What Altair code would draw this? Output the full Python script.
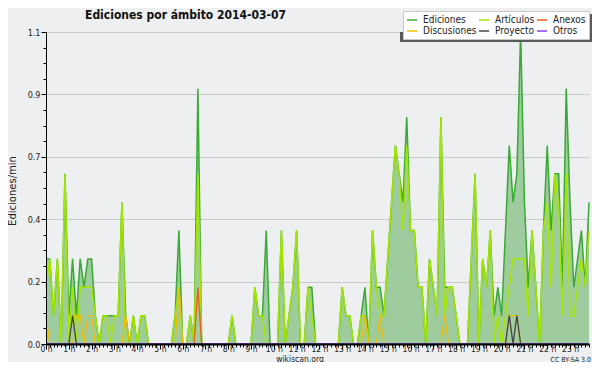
import altair as alt
import pandas as pd

# ---- data: edits per minute, one value every 10 minutes (6 per hour) ----
ediciones = [
    0.3, 0.3, 0.1, 0.3, 0.0, 0.6,   # 0 h
    0.1, 0.3, 0.1, 0.3, 0.2, 0.3,   # 1 h
    0.3, 0.1, 0.0, 0.1, 0.1, 0.1,   # 2 h
    0.1, 0.1, 0.5, 0.1, 0.0, 0.1,   # 3 h
    0.0, 0.1, 0.1, 0.0, 0.0, 0.0,   # 4 h
    0.0, 0.0, 0.0, 0.0, 0.1, 0.4,   # 5 h
    0.0, 0.0, 0.1, 0.0, 0.9, 0.0,   # 6 h
    0.0, 0.0, 0.0, 0.0, 0.0, 0.0,   # 7 h
    0.0, 0.1, 0.0, 0.0, 0.0, 0.0,   # 8 h
    0.0, 0.2, 0.1, 0.1, 0.4, 0.0,   # 9 h
    0.0, 0.0, 0.4, 0.0, 0.1, 0.2,   # 10 h
    0.4, 0.0, 0.0, 0.2, 0.2, 0.0,   # 11 h
    0.0, 0.0, 0.0, 0.0, 0.0, 0.0,   # 12 h
    0.2, 0.1, 0.1, 0.0, 0.0, 0.1,   # 13 h
    0.2, 0.0, 0.4, 0.2, 0.2, 0.1,   # 14 h
    0.3, 0.5, 0.7, 0.6, 0.5, 0.8,   # 15 h
    0.4, 0.4, 0.2, 0.2, 0.0, 0.3,   # 16 h
    0.2, 0.1, 0.8, 0.2, 0.2, 0.2,   # 17 h
    0.1, 0.0, 0.0, 0.0, 0.3, 0.6,   # 18 h
    0.0, 0.3, 0.2, 0.4, 0.1, 0.2,   # 19 h
    0.1, 0.4, 0.7, 0.5, 0.6, 1.1,   # 20 h
    0.5, 0.2, 0.4, 0.2, 0.0, 0.4,   # 21 h
    0.7, 0.4, 0.6, 0.6, 0.2, 0.9,   # 22 h
    0.5, 0.2, 0.3, 0.4, 0.2, 0.5,   # 23 h
]
articulos = [
    0.2, 0.3, 0.1, 0.3, 0.0, 0.6,
    0.0, 0.2, 0.0, 0.2, 0.2, 0.2,
    0.2, 0.1, 0.0, 0.1, 0.1, 0.0,
    0.1, 0.1, 0.5, 0.0, 0.0, 0.1,
    0.0, 0.1, 0.1, 0.0, 0.0, 0.0,
    0.0, 0.0, 0.0, 0.0, 0.1, 0.2,
    0.0, 0.0, 0.1, 0.0, 0.6, 0.0,
    0.0, 0.0, 0.0, 0.0, 0.0, 0.0,
    0.0, 0.1, 0.0, 0.0, 0.0, 0.0,
    0.0, 0.2, 0.1, 0.1, 0.0, 0.0,
    0.0, 0.0, 0.4, 0.0, 0.1, 0.2,
    0.4, 0.0, 0.0, 0.2, 0.1, 0.0,
    0.0, 0.0, 0.0, 0.0, 0.0, 0.0,
    0.2, 0.1, 0.1, 0.0, 0.0, 0.1,
    0.1, 0.0, 0.4, 0.2, 0.1, 0.1,
    0.3, 0.5, 0.7, 0.6, 0.4, 0.7,
    0.4, 0.4, 0.2, 0.2, 0.0, 0.3,
    0.2, 0.1, 0.8, 0.1, 0.2, 0.2,
    0.1, 0.0, 0.0, 0.0, 0.3, 0.6,
    0.0, 0.3, 0.2, 0.4, 0.0, 0.1,
    0.0, 0.1, 0.2, 0.3, 0.3, 0.3,
    0.3, 0.1, 0.4, 0.2, 0.0, 0.4,
    0.5, 0.2, 0.6, 0.5, 0.1, 0.6,
    0.1, 0.1, 0.2, 0.3, 0.2, 0.4,
]
discusiones = [
    0.1, 0.0, 0.0, 0.0, 0.0, 0.0,
    0.0, 0.0, 0.1, 0.1, 0.0, 0.1,
    0.1, 0.0, 0.0, 0.0, 0.0, 0.0,
    0.0, 0.0, 0.0, 0.1, 0.0, 0.0,
    0.0, 0.0, 0.0, 0.0, 0.0, 0.0,
    0.0, 0.0, 0.0, 0.0, 0.0, 0.2,
    0.0, 0.0, 0.0, 0.0, 0.0, 0.0,
    0.0, 0.0, 0.0, 0.0, 0.0, 0.0,
    0.0, 0.0, 0.0, 0.0, 0.0, 0.0,
    0.0, 0.0, 0.0, 0.0, 0.0, 0.0,
    0.0, 0.0, 0.0, 0.0, 0.0, 0.0,
    0.0, 0.0, 0.0, 0.0, 0.0, 0.0,
    0.0, 0.0, 0.0, 0.0, 0.0, 0.0,
    0.0, 0.0, 0.0, 0.0, 0.0, 0.0,
    0.1, 0.0, 0.0, 0.0, 0.1, 0.0,
    0.0, 0.0, 0.0, 0.0, 0.0, 0.0,
    0.0, 0.0, 0.0, 0.0, 0.0, 0.0,
    0.0, 0.0, 0.0, 0.1, 0.0, 0.0,
    0.0, 0.0, 0.0, 0.0, 0.0, 0.0,
    0.0, 0.0, 0.0, 0.0, 0.0, 0.0,
    0.0, 0.0, 0.1, 0.1, 0.1, 0.0,
    0.0, 0.0, 0.0, 0.0, 0.0, 0.0,
    0.0, 0.0, 0.0, 0.0, 0.0, 0.0,
    0.0, 0.0, 0.0, 0.0, 0.0, 0.0,
]
anexos = [0.0] * 40 + [0.2] + [0.0] * 103
proyecto = [0.0] * 7 + [0.1] + [0.0] * 114 + [0.1, 0.0, 0.1] + [0.0] * 19
otros = [0.0] * 144

series_names = ["Ediciones", "Artículos", "Anexos", "Discusiones", "Proyecto", "Otros"]
series_values = [ediciones, articulos, anexos, discusiones, proyecto, otros]
# legend fills column by column: this order gives the reference's 2 rows x 3 columns
legend_order = ["Ediciones", "Discusiones", "Artículos", "Proyecto", "Anexos", "Otros"]
legend_colors = ["#3aa935", "#f2bd00", "#a4e600", "#444444", "#f05a1e", "#8b40e8"]

y_major = [0.0, 0.22, 0.44, 0.66, 0.88, 1.1]
y_minor = [round(k * 0.055, 3) for k in range(21)]
x_major = list(range(24))
x_minor = [k / 6 for k in range(144)]

rows = []
for name, vals in zip(series_names, series_values):
    for i, v in enumerate(vals):
        rows.append({"serie": name, "hora": i / 6, "valor": v})
df = pd.DataFrame(rows)

FONT = "DejaVu Sans Condensed, DejaVu Sans"
BG = "#eeeff1"

xs = alt.Scale(domain=[0, 143 / 6], nice=False, zero=False)
ys = alt.Scale(domain=[0, 1.1], nice=False)
cs = alt.Scale(domain=legend_order, range=legend_colors)

legend = alt.Legend(
    title=None, orient="none", legendX=357, legendY=-21, columns=3,
    symbolType="stroke", symbolSize=100, symbolStrokeWidth=1.5,
    labelFont=FONT, labelFontSize=10, labelColor="#222",
    fillColor="white", strokeColor="#c8c8c8", padding=3,
    columnPadding=-1, rowPadding=-1, labelOffset=5, gridAlign="each",
)

base = alt.Chart(df)
ed = base.transform_filter(alt.datum.serie == "Ediciones")

area = ed.mark_area(color="#9fcc9f", interpolate="linear").encode(
    x=alt.X("hora:Q", scale=xs, axis=alt.Axis(
        orient="bottom", values=x_major, labelExpr="datum.value + ' h'",
        tickSize=5, tickColor="black", domainColor="black", domainWidth=2,
        labelFont=FONT, labelFontSize=8.5, labelColor="#222", labelPadding=-4.5,
        labelBaseline="top", labelAlign="center", labelOverlap=False,
        labelFlush=False, labelBound=False, grid=False, title=None, zindex=1)),
    y=alt.Y("valor:Q", scale=ys, axis=alt.Axis(
        orient="left", values=y_major, grid=True, gridColor="#c8c8c8",
        gridWidth=1, domain=False, ticks=False, labels=False, title=None,
        zindex=0)),
)

lines = []
for name, width in [("Ediciones", 1.5), ("Artículos", 1.5), ("Discusiones", 1.3),
                    ("Anexos", 1.3), ("Proyecto", 1.3), ("Otros", 1.3)]:
    lines.append(
        base.transform_filter(alt.datum.serie == name)
        .mark_line(strokeWidth=width, interpolate="linear")
        .encode(
            x=alt.X("hora:Q", scale=xs, axis=None),
            y=alt.Y("valor:Q", scale=ys, axis=None),
            color=alt.Color("serie:N", scale=cs, legend=legend),
        )
    )

axes1 = ed.mark_point(opacity=0).encode(
    x=alt.X("hora:Q", scale=xs, axis=alt.Axis(
        orient="bottom", values=x_minor, tickSize=3, tickColor="black",
        labels=False, domain=False, grid=False, title=None, zindex=1)),
    y=alt.Y("valor:Q", scale=ys, axis=alt.Axis(
        orient="left", values=y_major, format=".1f", tickSize=5,
        tickColor="black", domainColor="black", domainWidth=1,
        labelFont=FONT, labelFontSize=9, labelColor="#222", labelPadding=1,
        grid=False, title=None, zindex=1)),
)
axes2 = ed.mark_point(opacity=0).encode(
    x=alt.X("hora:Q", scale=xs, axis=None),
    y=alt.Y("valor:Q", scale=ys, axis=alt.Axis(
        orient="left", values=y_minor, tickSize=3, tickColor="black",
        labels=False, domain=False, grid=False, title=None, zindex=1)),
)

one = pd.DataFrame({"a": [0]})
shadow1 = alt.Chart(one).mark_rect(color="#5a5a5a").encode(
    x=alt.value(354), x2=alt.value(546), y=alt.value(0), y2=alt.value(10))
shadow2 = alt.Chart(one).mark_rect(color="#5a5a5a").encode(
    x=alt.value(540), x2=alt.value(546), y=alt.value(-18), y2=alt.value(10))


def label(txt, x, y, size, color="#222", **kw):
    return alt.Chart(pd.DataFrame({"t": [txt]})).mark_text(
        fontSize=size, color=color, **kw).encode(
        text="t:N", x=alt.value(x), y=alt.value(y))


title = label("Ediciones por ámbito  2014-03-07", 39, -13, 12, color="#111",
              font=FONT, fontWeight="bold", align="left", baseline="alphabetic")
ytitle = label("Ediciones/min", -33, 159, 10, font="DejaVu Sans", angle=270,
               align="center", baseline="middle")
site = label("wikiscan.org", 254, 329.5, 8.5, font=FONT, align="center",
             baseline="alphabetic")
lic = label("CC BY-SA 3.0", 545, 329.5, 7, font=FONT, align="right",
            baseline="alphabetic")

chart = alt.layer(
    area, *lines, axes1, axes2, shadow1, shadow2, title, ytitle, site, lic
).resolve_axis(x="independent", y="independent").properties(
    width=543, height=312,
    padding={"left": 38, "top": 24, "right": 3, "bottom": 18},
    autosize=alt.AutoSizeParams(type="none"),
    background=BG,
).configure_view(stroke=None)

chart.save("out.html", embed_options={"renderer": "svg", "actions": False})
